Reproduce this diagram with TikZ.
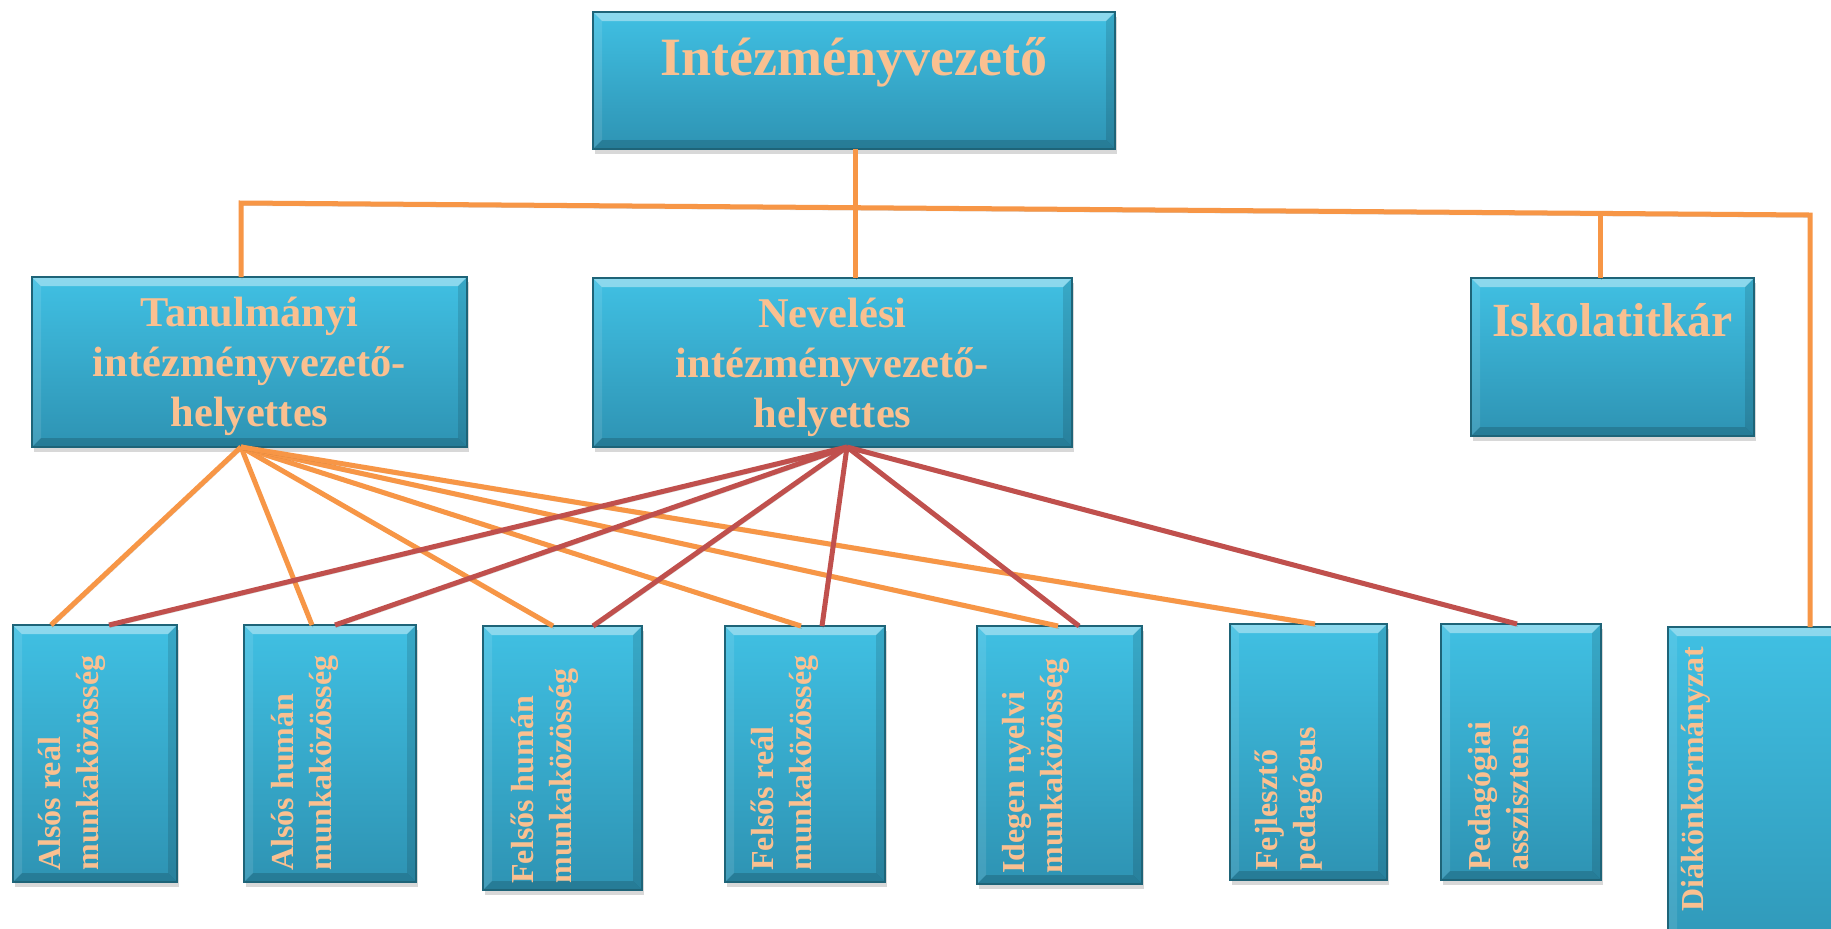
\documentclass[tikz,border=0pt]{standalone}
\usepackage{fontspec}
\setmainfont{Liberation Serif}
\usetikzlibrary{positioning,shadows}

\definecolor{boxtop}{HTML}{40C0E3}
\definecolor{boxbot}{HTML}{2E93B3}
\definecolor{boxedge}{HTML}{1E6478}
\definecolor{peach}{HTML}{FAC090}
\definecolor{lineorange}{HTML}{F79646}
\definecolor{linered}{HTML}{C0504D}

\begin{document}
\begin{tikzpicture}[
      x=0.5pt, y=-0.5pt,
      box/.style={rectangle, anchor=north west, inner sep=0pt, outer sep=0pt,
        draw=boxedge, line width=0.6pt, top color=boxtop, bottom color=boxbot,
        drop shadow={opacity=0.3, shadow xshift=1pt, shadow yshift=-2.5pt},
        path picture={
          \fill[white, opacity=0.4] (path picture bounding box.north west) -- (path picture bounding box.north east)
            -- ([shift={(-4.5pt,-4.5pt)}]path picture bounding box.north east) -- ([shift={(4.5pt,-4.5pt)}]path picture bounding box.north west) -- cycle;
          \fill[white, opacity=0.1] (path picture bounding box.north west) -- (path picture bounding box.south west)
            -- ([shift={(4.5pt,4.5pt)}]path picture bounding box.south west) -- ([shift={(4.5pt,-4.5pt)}]path picture bounding box.north west) -- cycle;
          \fill[black, opacity=0.12] (path picture bounding box.north east) -- (path picture bounding box.south east)
            -- ([shift={(-4.5pt,4.5pt)}]path picture bounding box.south east) -- ([shift={(-4.5pt,-4.5pt)}]path picture bounding box.north east) -- cycle;
          \fill[black, opacity=0.16] (path picture bounding box.south west) -- (path picture bounding box.south east)
            -- ([shift={(-4.5pt,4.5pt)}]path picture bounding box.south east) -- ([shift={(4.5pt,4.5pt)}]path picture bounding box.south west) -- cycle;
        }},
      headtext/.style={inner sep=0pt, align=center, text=peach, font=\bfseries\fontsize{27}{32}\selectfont},
      midtext/.style={inner sep=0pt, align=center, text=peach, font=\bfseries\fontsize{21.2}{25}\selectfont},
      vtext/.style={inner sep=0pt, align=left, rotate=90, text=peach, font=\bfseries\fontsize{16}{19}\selectfont},
      orangeline/.style={draw=lineorange, line width=2.5pt,
        preaction={draw=black, opacity=0.15, transform canvas={xshift=0.5pt, yshift=-1.2pt}}},
      redline/.style={draw=linered, line width=2.5pt,
        preaction={draw=black, opacity=0.15, transform canvas={xshift=0.5pt, yshift=-1.2pt}}}
      ]
      \clip (0,0) rectangle (1831,928);
      \fill[white] (0,0) rectangle (1831,928);

      % Dobozok
      \node[box, minimum width=261pt, minimum height=68.5pt] (iv) at (593,12) {};
      \node[box, minimum width=217.5pt, minimum height=85pt] (tan) at (32,277) {};
      \node[box, minimum width=239.5pt, minimum height=84.5pt] (nev) at (593,278) {};
      \node[box, minimum width=141.5pt, minimum height=79pt] (isk) at (1471,278) {};
      \node[box, minimum width=82pt, minimum height=128.5pt] (b1) at (13,625) {};
      \node[box, minimum width=86pt, minimum height=128.5pt] (b2) at (244,625) {};
      \node[box, minimum width=79.5pt, minimum height=132pt] (b3) at (483,626) {};
      \node[box, minimum width=80pt, minimum height=128pt] (b4) at (725,626) {};
      \node[box, minimum width=82.5pt, minimum height=129pt] (b5) at (977,626) {};
      \node[box, minimum width=78.5pt, minimum height=128pt] (b6) at (1230,624) {};
      \node[box, minimum width=80pt, minimum height=128pt] (b7) at (1441,624) {};
      \node[box, minimum width=100pt, minimum height=181.5pt] (b8) at (1668,627) {};

      % Feliratok
      \node[headtext, below=12.5pt of iv.north] (ivt) {Intézményvezető};
      \node[midtext, below=10pt of tan.north] (tant) {Tanulmányi\\intézményvezető-\\helyettes};
      \node[midtext, below=10pt of nev.north] (nevt) {Nevelési\\intézményvezető-\\helyettes};
      \node[headtext, font=\bfseries\fontsize{23.8}{28}\selectfont, below=12.5pt of isk.north] (iskt) {Iskolatitkár};
      \node[vtext, anchor=north west] (t1) at ([shift={(12.5pt,5.5pt)}]b1.south west) {Alsós reál\\munkaközösség};
      \node[vtext, anchor=north west] (t2) at ([shift={(13.5pt,5.5pt)}]b2.south west) {Alsós humán\\munkaközösség};
      \node[vtext, anchor=north west] (t3) at ([shift={(14pt,3pt)}]b3.south west) {Felsős humán\\munkaközösség};
      \node[vtext, anchor=north west] (t4) at ([shift={(13pt,5.5pt)}]b4.south west) {Felsős reál\\munkaközösség};
      \node[vtext, anchor=north west] (t5) at ([shift={(12.5pt,5pt)}]b5.south west) {Idegen nyelvi\\munkaközösség};
      \node[vtext, anchor=north west] (t6) at ([shift={(12.5pt,4.5pt)}]b6.south west) {Fejlesztő\\pedagógus};
      \node[vtext, anchor=north west] (t7) at ([shift={(13.5pt,4.5pt)}]b7.south west) {Pedagógiai\\asszisztens};
      \node[vtext, anchor=north east] (t8) at ([shift={(6.5pt,-9.5pt)}]b8.north west) {Diákönkormányzat};

      % Felso vonalak
      \coordinate (hl) at (241,203);
      \coordinate (hr) at (1810,215);
      \coordinate (hm) at (855,207.7);
      \coordinate (hi) at (1600,213.4);
      \draw[orangeline] (iv.south -| hm) -- (hm);
      \draw[orangeline] (tan.north -| hl) -- (hl) -- (hr) -- (b8.north -| hr);
      \draw[orangeline] (hm) -- (nev.north -| hm);
      \draw[orangeline] (hi) -- (isk.north -| hi);

      % Tanulmanyi helyettes
      \coordinate (tanb) at (tan.south -| hl);
      \draw[orangeline] (tanb) -- ([xshift=19pt]b1.north west);
      \draw[orangeline] (tanb) -- ([xshift=34pt]b2.north west);
      \draw[orangeline] (tanb) -- ([xshift=35pt]b3.north west);
      \draw[orangeline] (tanb) -- ([xshift=38pt]b4.north west);
      \draw[orangeline] (tanb) -- ([xshift=40.5pt]b5.north west);
      \draw[orangeline] (tanb) -- ([xshift=42.5pt]b6.north west);

      % Nevelesi helyettes
      \coordinate (nevb) at ([xshift=7.25pt]nev.south);
      \draw[redline] (nevb) -- ([xshift=48pt]b1.north west);
      \draw[redline] (nevb) -- ([xshift=45.5pt]b2.north west);
      \draw[redline] (nevb) -- ([xshift=55pt]b3.north west);
      \draw[redline] (nevb) -- ([xshift=48.5pt]b4.north west);
      \draw[redline] (nevb) -- ([xshift=51pt]b5.north west);
      \draw[redline] (nevb) -- ([xshift=38pt]b7.north west);
\end{tikzpicture}
\end{document}
